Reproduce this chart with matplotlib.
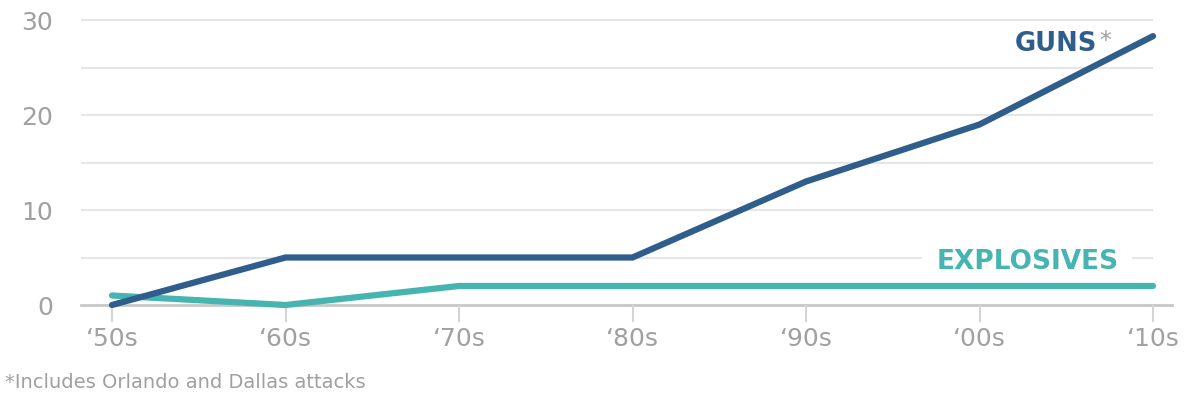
import matplotlib
matplotlib.use('Agg')
import matplotlib.pyplot as plt

# decades on the x axis
decades = ['\u201850s', '\u201860s', '\u201870s', '\u201880s', '\u201890s', '\u201800s', '\u201810s']

# number of attacks per decade
guns = [0, 5, 5, 5, 13, 19, 28.3]
explosives = [1, 0, 2, 2, 2, 2, 2]

yticks = [0, 10, 20, 30]
gridlevels = [5, 10, 15, 20, 25, 30]

gunColor = '#2f5d8c'
explosiveColor = '#46b5b1'
textGray = '#a0a0a0'

plt.rcParams['font.family'] = ['DejaVu Sans']

fig = plt.figure(figsize=(11.98, 4.14), dpi=100)
ax = fig.add_axes([81 / 1198, 1 - 306 / 414, (1172 - 81) / 1198, 285 / 414])

x = range(len(decades))
ax.set_xlim((81 - 112) / 173.5, (1172 - 112) / 173.5)
ax.set_ylim(0, 30)

# light gridlines stop at the last decade
ax.hlines(gridlevels, ax.get_xlim()[0], 6, colors='#e6e6e6', linewidth=1.5, zorder=1, clip_on=False)
ax.axhline(0, color='#c8c8c8', linewidth=2, zorder=1, clip_on=False)

ax.plot(x, explosives, color=explosiveColor, linewidth=4.5, solid_capstyle='round',
        solid_joinstyle='miter', zorder=3, clip_on=False)
ax.plot(x, guns, color=gunColor, linewidth=4.5, solid_capstyle='round',
        solid_joinstyle='miter', zorder=4, clip_on=False)

for side in ['top', 'right', 'left', 'bottom']:
    ax.spines[side].set_visible(False)

ax.set_xticks(list(x))
ax.set_xticklabels(decades)
ax.set_yticks(yticks)
ax.tick_params(axis='x', length=12, width=1.5, color='#d5d5d5', pad=3,
               labelsize=18, labelcolor=textGray)
ax.tick_params(axis='y', length=0, pad=20, labelsize=18, labelcolor=textGray)

# series labels (white box only breaks the gridline, lines stay on top)
ax.text(5.68, 27.6, 'GUNS', color=gunColor, fontsize=18.5, fontweight='bold',
        ha='right', va='center', zorder=5)
ax.text(5.69, 27.9, '*', color=textGray, fontsize=17, ha='left', va='center', zorder=5)
ax.text(5.80, 4.6, 'EXPLOSIVES', color=explosiveColor, fontsize=19, fontweight='bold',
        ha='right', va='center', zorder=2,
        bbox=dict(facecolor='white', edgecolor='none', pad=10))

fig.text(5 / 1198, 1 - 383 / 414, '*Includes Orlando and Dallas attacks',
         color=textGray, fontsize=14, ha='left', va='center')

fig.savefig('out.png', dpi=100, facecolor='white')
